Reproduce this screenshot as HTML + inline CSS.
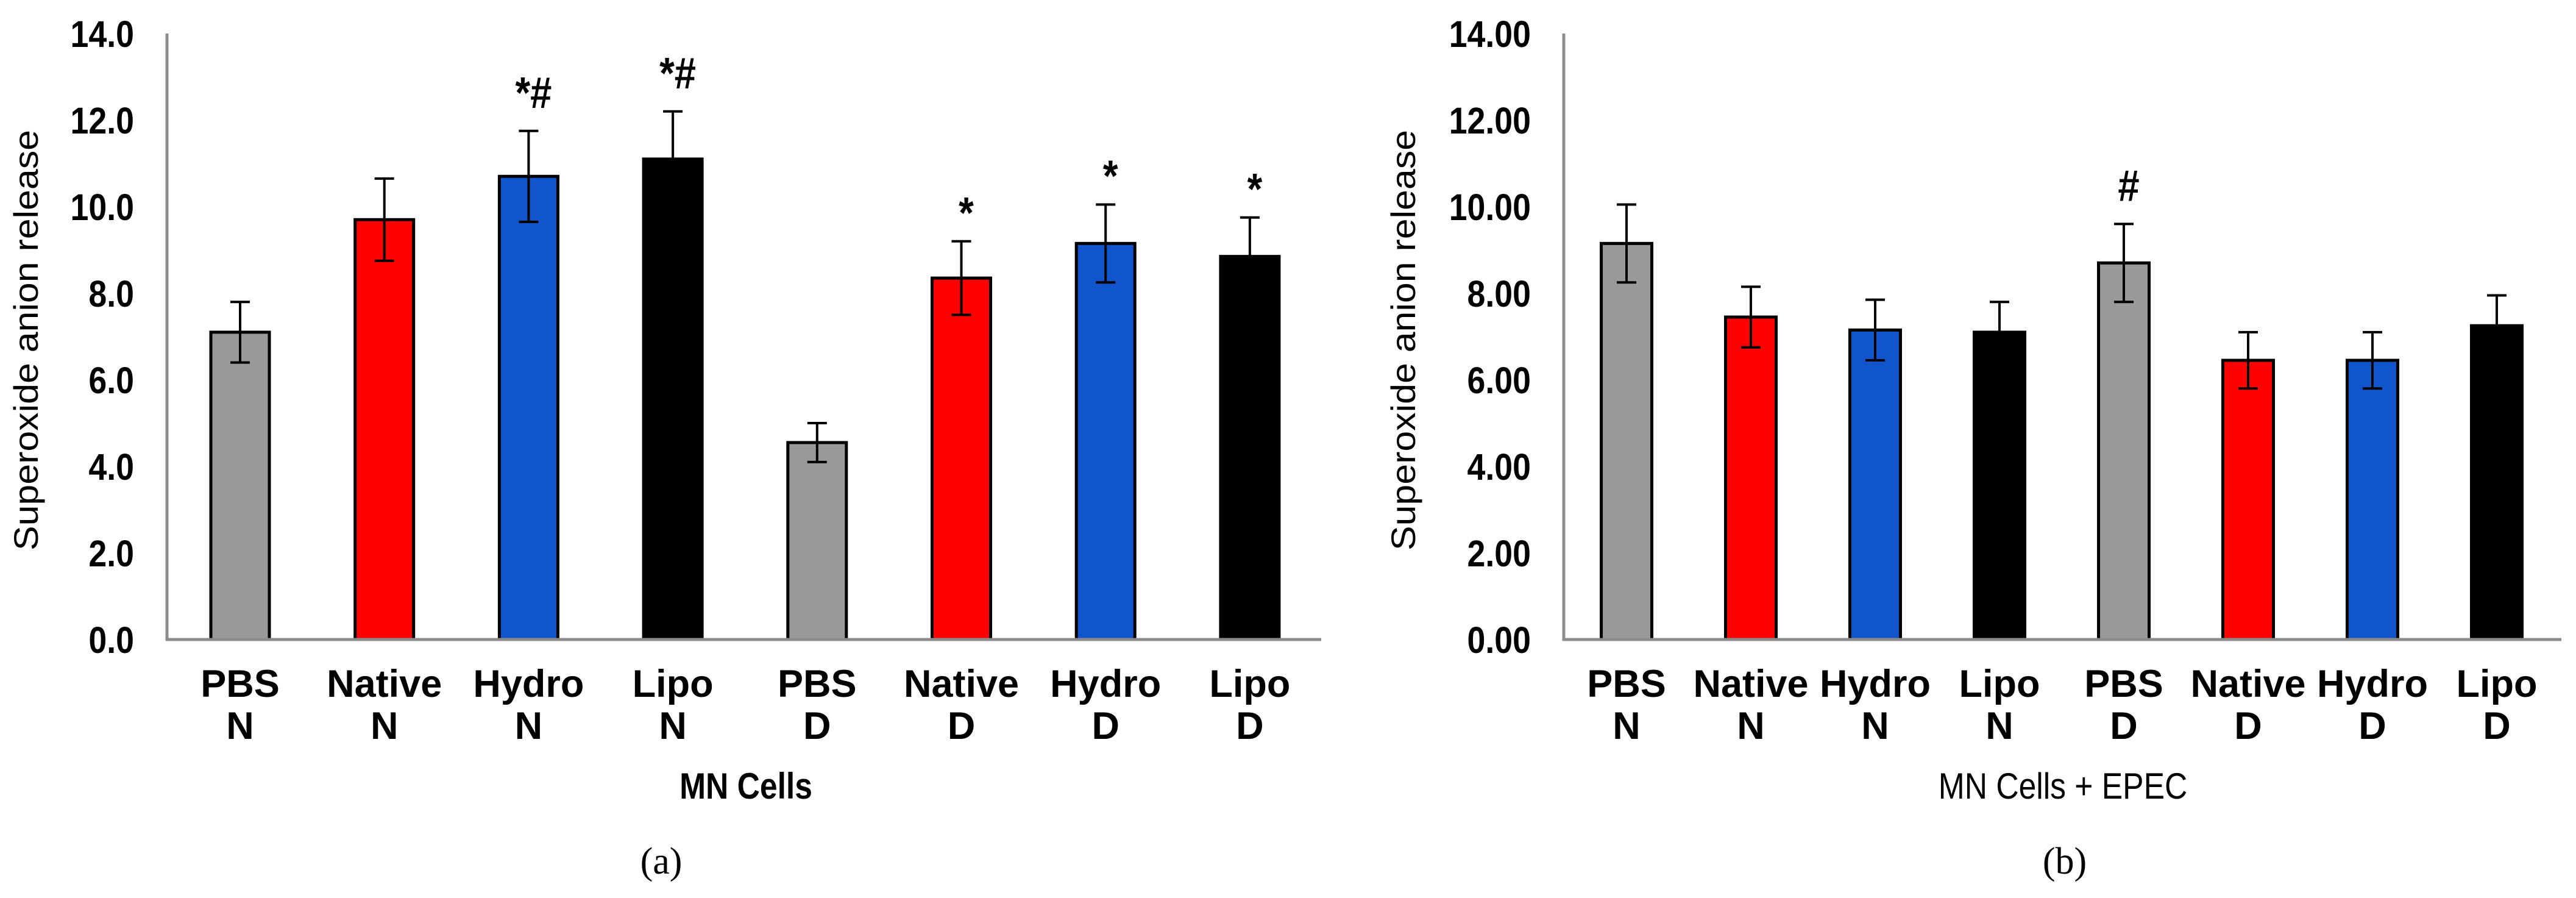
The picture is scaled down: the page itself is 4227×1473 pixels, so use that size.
<!DOCTYPE html>
<html><head><meta charset="utf-8"><style>
html,body{margin:0;padding:0;background:#fff;}
svg{display:block;}
text{font-family:"Liberation Sans",sans-serif;}
</style></head><body>
<svg id="fig" width="4227" height="1473" viewBox="0 0 4227 1473" xmlns="http://www.w3.org/2000/svg">
<g id="chartA"></g>
<g id="chartB"></g>
</svg>
<script>
const labelsTop = ["PBS","Native","Hydro","Lipo","PBS","Native","Hydro","Lipo"];
const labelsBottom = ["N","N","N","N","D","D","D","D"];
const colorsBars = ["#999999","#ff0000","#1155cc","#000000","#999999","#ff0000","#1155cc","#000000"];
const valuesA = [7.1, 9.7, 10.7, 11.1, 4.55, 8.35, 9.15, 8.85];
const errorsA = [0.7, 0.95, 1.05, 1.1, 0.45, 0.85, 0.9, 0.9];
const marksA = ["", "", "*#", "*#", "", "*", "*", "*"];
const valuesB = [9.15, 7.45, 7.15, 7.1, 8.7, 6.45, 6.45, 7.25];
const errorsB = [0.9, 0.7, 0.7, 0.7, 0.9, 0.65, 0.65, 0.7];
const marksB = ["", "", "", "", "#", "", "", ""];
const ticks = [0, 2, 4, 6, 8, 10, 12, 14];

const NS = "http://www.w3.org/2000/svg";
function mk(parent, tag, attrs, txt){
  const e = document.createElementNS(NS, tag);
  for (const k in attrs) e.setAttribute(k, attrs[k]);
  if (txt !== undefined) e.textContent = txt;
  parent.appendChild(e);
  return e;
}

function drawChart(g, cfg){
  const y0 = 1049, yTop = 55;
  const yScale = v => y0 - (v / 14) * (y0 - yTop);
  const xCenter = i => cfg.firstCenter + i * cfg.step;
  let e = mk(g, "line", {x1:cfg.axisX, y1:yTop, x2:cfg.axisX, y2:y0+2, stroke:"#8c8c8c", "stroke-width":5});
  
  
  ticks.forEach(t => {
    const tl = mk(g, "text", {x:0, y:0, transform:`translate(${cfg.tickRight},${yScale(t)+22}) scale(0.88,1)`, "text-anchor":"end", "font-size":61, "font-weight":"bold", fill:"#000"}, t.toFixed(cfg.dec));
    
    
  });
  cfg.values.forEach((v, i) => {
    const cx = xCenter(i);
    const r = mk(g, "rect", {x:cx - cfg.barW/2, y:yScale(v), width:cfg.barW, height:y0 - yScale(v), fill:colorsBars[i], stroke:"#000", "stroke-width":5});
    
    
    const hi = yScale(v + cfg.errors[i]), lo = yScale(v - cfg.errors[i]);
    const eb = mk(g, "path", {d:`M${cx} ${hi}V${lo}M${cx-16} ${hi}H${cx+16}M${cx-16} ${lo}H${cx+16}`, stroke:"#000", "stroke-width":4, fill:"none"});
    
    
    if (cfg.marks[i]) {
      const off = cfg.marks[i] === "*" ? 22 : 38;
      const m = mk(g, "text", {x:0, y:0, transform:`translate(${cx + 8},${hi - off}) scale(0.88,1)`, "text-anchor":"middle", "font-size":72, "font-weight":"bold", fill:"#000"}, cfg.marks[i]);
      
      
    }
    const l1 = mk(g, "text", {x:0, y:0, transform:`translate(${cx},1143) scale(1,1)`, "text-anchor":"middle", "font-size":63, "font-weight":"bold", fill:"#000"}, labelsTop[i]);
    
    
    const l2 = mk(g, "text", {x:0, y:0, transform:`translate(${cx},1212) scale(1,1)`, "text-anchor":"middle", "font-size":63, "font-weight":"bold", fill:"#000"}, labelsBottom[i]);
    
    
  });
  e = mk(g, "line", {x1:cfg.axisX-2, y1:y0, x2:cfg.axisEnd, y2:y0, stroke:"#8c8c8c", "stroke-width":5});
  
  
  const yt = mk(g, "text", {x:0, y:0, transform:`translate(${cfg.yTitleX},558) rotate(-90)`, "text-anchor":"middle", "font-size":56, fill:"#000", textLength:690, lengthAdjust:"spacingAndGlyphs"}, "Superoxide anion release");
  
  
  const xt = mk(g, "text", {x:0, y:0, transform:`translate(${cfg.xTitleX},1310) scale(0.86,1)`, "text-anchor":"middle", "font-size":60, "font-weight":cfg.xTitleBold ? "bold" : "normal", fill:"#000"}, cfg.xTitle);
  
  
  const pl = mk(g, "text", {x:cfg.panelX, y:1433, "text-anchor":"middle", "font-size":62, fill:"#000", style:"font-family:'Liberation Serif',serif"}, cfg.panel);
  
  
}

drawChart(document.getElementById("chartA"), {
  values: valuesA, errors: errorsA, marks: marksA, dec: 1,
  axisX: 274, axisEnd: 2168, firstCenter: 394, step: 236.7, barW: 96,
  tickRight: 220, yTitleX: 62, xTitle: "MN Cells", xTitleBold: true,
  xTitleX: 1224, panel: "(a)", panelX: 1085
});
drawChart(document.getElementById("chartB"), {
  values: valuesB, errors: errorsB, marks: marksB, dec: 2,
  axisX: 2566, axisEnd: 4203, firstCenter: 2669, step: 204, barW: 83,
  tickRight: 2512, yTitleX: 2322, xTitle: "MN Cells + EPEC", xTitleBold: false,
  xTitleX: 3385, panel: "(b)", panelX: 3388
});
</script>
</body></html>
